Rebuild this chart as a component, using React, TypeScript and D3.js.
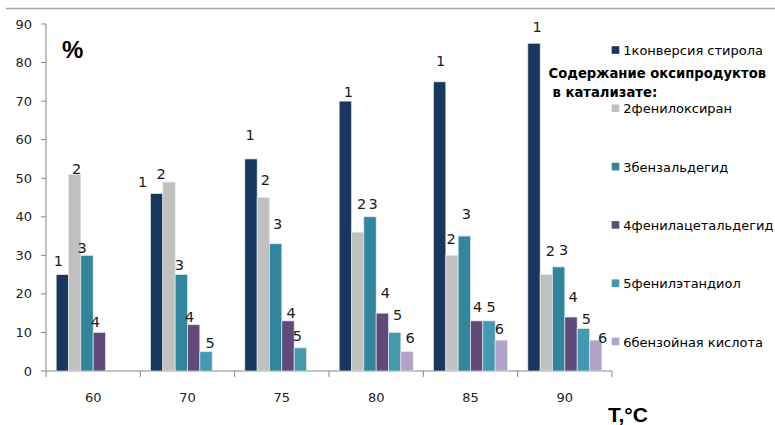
import React from "react";
import * as d3 from "d3";

const categories = ["60", "70", "75", "80", "85", "90"];
const seriesNames = [
  "1конверсия стирола",
  "2фенилоксиран",
  "3бензальдегид",
  "4фенилацетальдегид",
  "5фенилэтандиол",
  "6бензойная кислота",
];
const conversion = [25, 46, 55, 70, 75, 85];
const phenyloxirane = [51, 49, 45, 36, 30, 25];
const benzaldehyde = [30, 25, 33, 40, 35, 27];
const phenylacetaldehyde = [10, 12, 13, 15, 13, 14];
const phenylethanediol = [null, 5, 6, 10, 13, 11];
const benzoicAcid = [null, null, null, 5, 8, 8];
const yTicks = [0, 10, 20, 30, 40, 50, 60, 70, 80, 90];
const seriesValues: (number | null)[][] = [
  conversion,
  phenyloxirane,
  benzaldehyde,
  phenylacetaldehyde,
  phenylethanediol,
  benzoicAcid,
];

const colors = ["#17375E", "#C0C0C0", "#31859C", "#604A7B", "#4299B0", "#B3A2C7"];

// label nudges [dx, dy above bar top] per series, per category (Excel manual placement)
const labelNudge: [number, number][][] = [
  [[-4, 14], [-14, 12], [-1, 24], [3, 9], [1, 21], [3, 16]],
  [[2, 5], [-8, 8], [2, 18], [4, 28], [-1, 16], [4, 24]],
  [[-5, 7], [-2, 10], [2, 20], [3, 13], [2, 22], [5, 17]],
  [[-4, 10], [-4, 8], [3, 8], [3, 20], [1, 14], [2, 20]],
  [[0, 0], [4, 9], [-3, 12], [3, 17], [2, 14], [3, 10]],
  [[0, 0], [0, 0], [0, 0], [3, 14], [-2, 11], [7, 2]],
];

const X0 = 46;
const X1 = 612;
const Y0 = 371;
const Y1 = 24;

export default function App() {
  const x = d3
    .scaleBand<string>()
    .domain(categories)
    .range([X0, X1])
    .paddingInner(0.2155)
    .paddingOuter(0.2155 / 2);
  const xs = d3
    .scaleBand<number>()
    .domain(d3.range(seriesValues.length))
    .range([0, x.bandwidth()])
    .padding(0);
  const y = d3.scaleLinear().domain([0, 90]).range([Y0, Y1]);
  const step = x.step();
  const font = "'DejaVu Sans', sans-serif";
  const legendY = (i: number) => 50 + i * 58.3;

  return (
    <svg
      width={775}
      height={425}
      style={{ position: "absolute", left: 0, top: 0, background: "#fff" }}
      fontFamily={font}
    >
      <rect x={0} y={0} width={775} height={425} fill="#fff" />
      <line x1={6} x2={775} y1={8.5} y2={8.5} stroke="#a6a6a6" strokeWidth={1.3} />

      {/* y axis */}
      <line x1={X0} x2={X0} y1={Y1} y2={Y0} stroke="#868686" strokeWidth={1} />
      {yTicks.map((t) => (
        <g key={t}>
          <line x1={X0 - 5} x2={X0} y1={y(t)} y2={y(t)} stroke="#868686" />
          <text x={32} y={y(t) + 4.6} textAnchor="end" fontSize={13} fill="#222">
            {t}
          </text>
        </g>
      ))}

      {/* x axis */}
      <line x1={X0} x2={X1} y1={Y0} y2={Y0} stroke="#868686" strokeWidth={1} />
      {d3.range(categories.length + 1).map((i) => (
        <line
          key={i}
          x1={X0 + i * step}
          x2={X0 + i * step}
          y1={Y0}
          y2={Y0 + 6}
          stroke="#868686"
        />
      ))}
      {categories.map((c) => (
        <text
          key={c}
          x={(x(c) as number) + x.bandwidth() / 2}
          y={401.5}
          textAnchor="middle"
          fontSize={13}
          fill="#222"
        >
          {c}
        </text>
      ))}

      {/* bars */}
      {seriesValues.map((vals, s) =>
        vals.map((v, i) =>
          v == null ? null : (
            <rect
              key={`${s}-${i}`}
              x={(x(categories[i]) as number) + (xs(s) as number)}
              y={y(v)}
              width={xs.bandwidth()}
              height={Y0 - y(v)}
              fill={colors[s]}
              stroke="#e6e6e6"
              strokeWidth={0.7}
            />
          )
        )
      )}

      {/* labels */}
      {seriesValues.map((vals, s) =>
        vals.map((v, i) =>
          v == null ? null : (
            <text
              key={`l${s}-${i}`}
              x={(x(categories[i]) as number) + (xs(s) as number) + xs.bandwidth() / 2 + labelNudge[s][i][0]}
              y={y(v) - labelNudge[s][i][1] + 5}
              textAnchor="middle"
              fontSize={14.5}
              fill="#1a1a1a"
            >
              {s + 1}
            </text>
          )
        )
      )}

      {/* % */}
      <text x={62} y={58} fontSize={24} fontWeight="bold" fontFamily="'Liberation Sans', Arial, sans-serif" fill="#000">
        %
      </text>

      {/* axis title */}
      <text x={608} y={421.5} fontSize={21} fontWeight="bold" fontFamily="'Liberation Sans', Arial, sans-serif" fill="#000">
        T,°C
      </text>

      {/* legend */}
      {seriesNames.map((n, i) => (
        <g key={n}>
          <rect x={611.7} y={legendY(i) - 3.8} width={7.6} height={7.6} fill={colors[i]} />
          <text x={623.3} y={legendY(i) + 5} fontSize={13} fill="#000">
            {n}
          </text>
        </g>
      ))}
      <text x={548.5} y={77.5} fontSize={13.2} fontWeight="bold" fill="#000">
        Содержание оксипродуктов
      </text>
      <text x={552.5} y={96.5} fontSize={13.2} fontWeight="bold" fill="#000">
        в катализате:
      </text>
    </svg>
  );
}
